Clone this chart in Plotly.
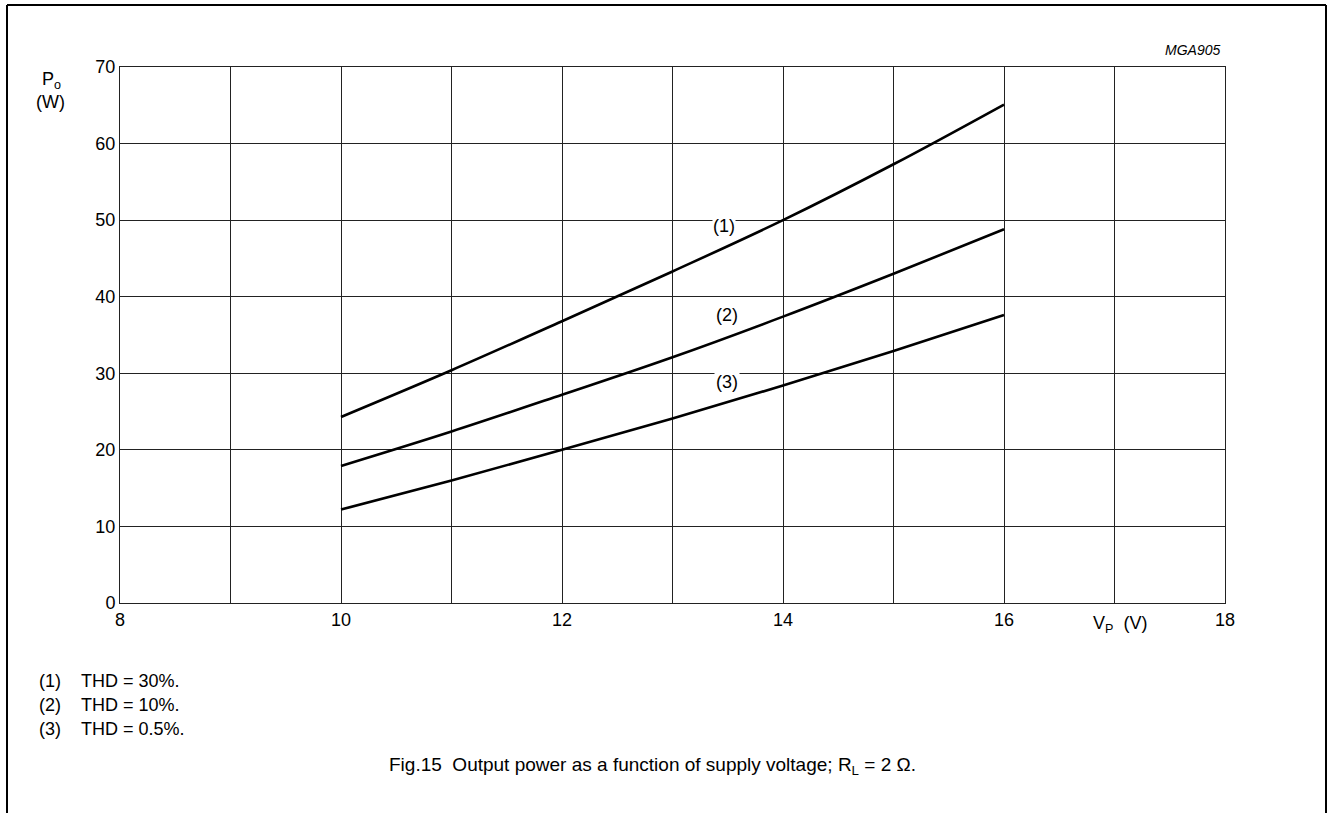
import plotly.graph_objects as go

vp = [10, 11, 12, 13, 14, 15, 16]
po_thd30 = [24.3, 30.4, 36.8, 43.3, 50.0, 57.3, 65.1]
po_thd10 = [17.9, 22.4, 27.2, 32.1, 37.4, 43.0, 48.8]
po_thd05 = [12.2, 16.0, 20.0, 24.1, 28.4, 32.9, 37.6]

x_ticks = [8, 10, 12, 14, 16, 18]
y_ticks = [0, 10, 20, 30, 40, 50, 60, 70]

FONT = "Liberation Sans, Arial, sans-serif"
L, R, T, B = 120, 104, 67, 210
W, H = 1329, 813
pw, ph = W - L - R, H - T - B


def px(x):
    # screen pixel -> paper x
    return (x - L) / pw


def py(y):
    # screen pixel -> paper y
    return (H - B - y) / ph


fig = go.Figure()
for ys in (po_thd30, po_thd10, po_thd05):
    fig.add_trace(go.Scatter(x=vp, y=ys, mode="lines", line=dict(color="black", width=2.6, shape="spline"),
                             showlegend=False, hoverinfo="skip"))

NB = "&nbsp;"
annotations = [
    dict(x=13.47, y=49.2, text="(1)", showarrow=False, bgcolor="white", font=dict(size=18), borderpad=0),
    dict(x=13.49, y=37.6, text="(2)", showarrow=False, font=dict(size=18)),
    dict(x=13.49, y=28.8, text="(3)", showarrow=False, bgcolor="white", font=dict(size=18), borderpad=1),
    dict(x=px(1222), y=py(50), xref="paper", yref="paper", text="<i>MGA905</i>", showarrow=False,
         xanchor="right", yanchor="middle", font=dict(size=14)),
    dict(x=px(51), y=py(80), xref="paper", yref="paper", text="P<sub>o</sub>", showarrow=False,
         xanchor="center", yanchor="middle", font=dict(size=18)),
    dict(x=px(50), y=py(102), xref="paper", yref="paper", text="(W)", showarrow=False,
         xanchor="center", yanchor="middle", font=dict(size=18)),
    dict(x=px(1120), y=py(624), xref="paper", yref="paper", text="V<sub>P</sub>" + NB * 2 + "(V)",
         showarrow=False, xanchor="center", yanchor="middle", font=dict(size=18)),
    dict(x=px(37), y=py(681), xref="paper", yref="paper", text="(1)" + NB * 4 + "THD = 30%.", showarrow=False,
         xanchor="left", yanchor="middle", font=dict(size=18)),
    dict(x=px(37), y=py(705), xref="paper", yref="paper", text="(2)" + NB * 4 + "THD = 10%.", showarrow=False,
         xanchor="left", yanchor="middle", font=dict(size=18)),
    dict(x=px(37), y=py(729), xref="paper", yref="paper", text="(3)" + NB * 4 + "THD = 0.5%.", showarrow=False,
         xanchor="left", yanchor="middle", font=dict(size=18)),
    dict(x=px(652), y=py(766), xref="paper", yref="paper",
         text="Fig.15" + NB * 2 + "Output power as a function of supply voltage; R<sub>L</sub> = 2 Ω.",
         showarrow=False, xanchor="center", yanchor="middle", font=dict(size=19)),
]

shapes = [
    dict(type="line", xref="paper", yref="paper", x0=px(7), x1=px(7), y0=py(5), y1=py(820),
         line=dict(color="black", width=2)),
    dict(type="line", xref="paper", yref="paper", x0=px(7), x1=px(1326), y0=py(5), y1=py(5),
         line=dict(color="black", width=2)),
    dict(type="line", xref="paper", yref="paper", x0=px(1326), x1=px(1326), y0=py(5), y1=py(820),
         line=dict(color="black", width=2)),
]

fig.update_layout(
    width=W, height=H,
    margin=dict(l=L, r=R, t=T, b=B),
    paper_bgcolor="white", plot_bgcolor="white",
    font=dict(family=FONT, color="black", size=18),
    annotations=annotations, shapes=shapes,
    xaxis=dict(range=[8, 18], tickvals=x_ticks, showgrid=True, gridcolor="#222",
               gridwidth=1, zeroline=False, showline=True, linecolor="#222", linewidth=1, mirror=True,
               ticks="", tickfont=dict(size=18), fixedrange=True,
               minor=dict(dtick=1, tick0=8, showgrid=True, gridcolor="#222", gridwidth=1)),
    yaxis=dict(range=[0, 70], tickvals=y_ticks, showgrid=True, gridcolor="#222", gridwidth=1,
               zeroline=False, showline=True, linecolor="#222", linewidth=1, mirror=True,
               ticks="", tickfont=dict(size=18), fixedrange=True),
)

fig.write_html(
    "out.html",
    config={"displayModeBar": False, "staticPlot": True},
    post_script="document.body.style.margin='0px';document.body.style.overflow='hidden';",
)
